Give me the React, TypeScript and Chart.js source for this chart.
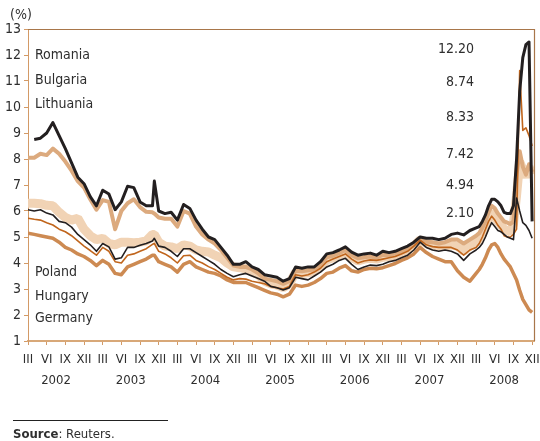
import React, { useEffect, useRef } from "react";
import { Chart, registerables } from "chart.js";

Chart.register(...registerables);

// x positions in months since March 2002
const months = [
  0, 1, 2, 3, 4, 5, 6, 7, 8, 9, 10, 11, 12, 13, 14, 15, 16, 17, 18, 19, 20, 20.3,
  21, 22, 23, 24, 25, 26, 27, 28, 29, 30, 31, 32, 33, 34, 35, 36, 37, 38, 39, 40,
  41, 42, 43, 44, 45, 46, 47, 48, 49, 50, 51, 52, 53, 54, 55, 56, 57, 58, 59, 60,
  61, 62, 63, 64, 65, 66, 67, 68, 69, 70, 71, 72,
  72.5, 73, 73.5, 74, 74.5, 75, 75.5, 76, 76.5, 77, 77.5, 78, 78.5, 79, 79.5, 80, 80.5, 81,
];

const romania = [
  null, 8.75, 8.8, 9.0, 9.4, 8.9, 8.4, 7.85, 7.3, 7.05, 6.55, 6.2, 6.8, 6.65, 6.05, 6.35, 6.95, 6.9, 6.35, 6.2, 6.2, 7.15,
  6.0, 5.9, 5.95, 5.65, 6.25, 6.1, 5.65, 5.3, 5.0, 4.9, 4.6, 4.3, 3.95, 3.95, 4.05, 3.85, 3.75, 3.55, 3.5, 3.45,
  3.3, 3.4, 3.85, 3.8, 3.85, 3.85, 4.05, 4.35, 4.4, 4.5, 4.62, 4.42, 4.3, 4.35, 4.38, 4.3, 4.45, 4.4, 4.45, 4.55,
  4.65, 4.8, 5.0, 4.95, 4.95, 4.9, 4.95, 5.1, 5.15, 5.08, 5.25, 5.35,
  5.4, 5.6, 5.85, 6.2, 6.45, 6.45, 6.35, 6.2, 5.95, 5.9, 5.9, 6.2, 8.0, 10.6, 11.9, 12.4, 12.5, 5.6,
];

const bulgaria = [
  8.05, 8.05, 8.2, 8.15, 8.4, 8.2, 7.9, 7.55, 7.15, 6.9, 6.45, 6.05, 6.42, 6.35, 5.3, 6.0, 6.3, 6.45, 6.15, 5.97, 5.95, 5.9,
  5.75, 5.7, 5.7, 5.4, 6.0, 5.9, 5.4, 5.1, 4.9, 4.75, 4.5, 4.2, 3.9, 3.85, 3.85, 3.75, 3.6, 3.4, 3.35, 3.3,
  3.2, 3.3, 3.7, 3.68, 3.72, 3.75, 3.93, 4.22, 4.28, 4.38, 4.5, 4.3, 4.18, 4.22, 4.25, 4.2, 4.32, 4.3, 4.35, 4.45,
  4.55, 4.7, 4.9, 4.82, 4.8, 4.75, 4.8, 4.9, 4.9, 4.75, 4.9, 5.05,
  5.15, 5.35, 5.6, 5.95, 6.2, 6.1, 5.9, 5.75, 5.6, 5.55, 5.5, 5.6, 7.4, 8.3, 7.7, 7.4, 7.8, 7.5,
];

const lithuania = [
  6.3, 6.3, 6.28, 6.22, 6.2, 5.95, 5.75, 5.65, 5.72, 5.3, 5.05, 4.9, 4.95, 4.75, 4.7, 4.8, 4.8, 4.78, 4.8, 4.85, 5.1, 5.1,
  4.8, 4.65, 4.62, 4.55, 4.7, 4.65, 4.5, 4.45, 4.42, 4.3, 4.2, 4.0, 3.85, 3.82, 3.78, 3.65, 3.55, 3.3, 3.2, 3.15,
  3.05, 3.2, 3.65, 3.6, 3.62, 3.7, 3.85, 4.12, 4.2, 4.3, 4.42, 4.22, 4.08, 4.15, 4.18, 4.15, 4.22, 4.25, 4.3, 4.4,
  4.5, 4.65, 4.9, 4.75, 4.7, 4.65, 4.65, 4.7, 4.65, 4.45, 4.65, 4.8,
  4.9, 5.1, 5.35, 5.7, 5.95, 5.8, 5.6, 5.45, 5.3, 5.25, 5.2, 5.5, 6.6, 7.9, 7.6, 7.3, 7.7, 7.4,
];

const poland = [
  6.05, 6.0, 6.05, 5.92, 5.85, 5.6, 5.55, 5.38, 5.1, 4.9, 4.7, 4.45, 4.75, 4.62, 4.15, 4.2, 4.6, 4.6, 4.68, 4.75, 4.85, 4.95,
  4.65, 4.6, 4.45, 4.25, 4.55, 4.55, 4.4, 4.25, 4.1, 3.95, 3.75, 3.6, 3.47, 3.55, 3.6, 3.5, 3.4, 3.3, 3.1, 3.05,
  2.96, 3.05, 3.45, 3.4, 3.35, 3.5, 3.65, 3.85, 3.95, 4.1, 4.18, 3.95, 3.75, 3.85, 3.92, 3.9, 3.95, 4.05, 4.1, 4.2,
  4.3, 4.5, 4.8, 4.6, 4.5, 4.45, 4.5, 4.45, 4.35, 4.1, 4.35, 4.5,
  4.6, 4.75, 5.0, 5.3, 5.55, 5.4, 5.25, 5.2, 5.1, 5.0, 4.95, 4.9, 6.5, 6.0, 5.55, 5.45, 5.25, 4.95,
];

const hungary = [
  5.72, 5.68, 5.65, 5.55, 5.46, 5.3, 5.2, 5.05, 4.85, 4.65, 4.48, 4.3, 4.6, 4.45, 4.05, 4.0, 4.3, 4.35, 4.45, 4.55, 4.72, 4.75,
  4.45, 4.35, 4.2, 4.0, 4.28, 4.3, 4.1, 4.0, 3.86, 3.75, 3.6, 3.45, 3.35, 3.4, 3.38, 3.3, 3.25, 3.2, 3.1, 3.05,
  3.0, 3.1, 3.55, 3.5, 3.55, 3.65, 3.8, 4.05, 4.15, 4.25, 4.35, 4.15, 4.0, 4.08, 4.12, 4.1, 4.15, 4.2, 4.25, 4.35,
  4.45, 4.65, 4.88, 4.7, 4.63, 4.6, 4.6, 4.6, 4.5, 4.3, 4.5, 4.6,
  4.75, 5.0, 5.3, 5.6, 5.8, 5.65, 5.45, 5.3, 5.05, 5.0, 5.0, 5.1, 5.3, 11.4, 9.1, 9.2, 8.9, 8.5,
];

const germany = [
  5.15, 5.1, 5.05, 5.0, 4.95, 4.8, 4.6, 4.5, 4.35, 4.25, 4.1, 3.9, 4.1, 3.95, 3.6, 3.55, 3.85, 3.95, 4.05, 4.15, 4.3, 4.3,
  4.05, 3.95, 3.85, 3.65, 3.95, 4.05, 3.85, 3.75, 3.65, 3.6, 3.5, 3.35, 3.25, 3.25, 3.25, 3.15, 3.05, 2.95, 2.85, 2.8,
  2.7, 2.8, 3.15, 3.1, 3.15, 3.25, 3.4, 3.6, 3.65, 3.8, 3.9, 3.7, 3.65, 3.75, 3.8, 3.78, 3.82, 3.9, 3.98, 4.1,
  4.2, 4.35, 4.6, 4.4, 4.25, 4.15, 4.05, 4.05, 3.7, 3.45, 3.3, 3.6,
  3.75, 3.95, 4.2, 4.5, 4.7, 4.75, 4.6, 4.35, 4.15, 4.0, 3.85, 3.6, 3.35, 2.95, 2.6, 2.4, 2.2, 2.1,
];

const topNames = ["Romania", "Bulgaria", "Lithuania"];
const bottomNames = ["Poland", "Hungary", "Germany"];
const endValues = ["12.20", "8.74", "8.33", "7.42", "4.94", "2.10"];
const quarterTicks = [
  0, 3, 6, 9, 12, 15, 18, 21, 24, 27, 30, 33, 36, 39, 42, 45, 48, 51, 54, 57, 60, 63, 66, 69, 72, 75, 78, 81,
];
const quarterLabels = ["III", "VI", "IX", "XII"];
const years = ["2002", "2003", "2004", "2005", "2006", "2007", "2008"];

const FONT = "'Liberation Sans Narrow', 'DejaVu Sans Condensed', 'Liberation Sans', Arial, sans-serif";
const TEXT = "#2e2e2e";

const textPlugin = {
  id: "annotTexts",
  afterDraw(chart: any) {
    const ctx = chart.ctx as CanvasRenderingContext2D;
    const { left, top, right, bottom } = chart.chartArea;
    ctx.save();
    ctx.strokeStyle = "#a8764a";
    ctx.lineWidth = 1.2;
    ctx.beginPath();
    ctx.moveTo(left, top + 0.5);
    ctx.lineTo(right + 0.5, top + 0.5);
    ctx.lineTo(right + 0.5, bottom);
    ctx.stroke();

    ctx.fillStyle = TEXT;
    ctx.font = `14px ${FONT}`;
    ctx.textBaseline = "alphabetic";
    ctx.textAlign = "left";
    ctx.fillText("(%)", 10, 19);
    const topY = [58.5, 83.5, 108];
    topNames.forEach((n, i) => ctx.fillText(n, 35, topY[i]));
    const botY = [276, 300, 322];
    bottomNames.forEach((n, i) => ctx.fillText(n, 35, botY[i]));
    ctx.textAlign = "right";
    const valY = [53, 86, 121, 158, 189, 217];
    endValues.forEach((v, i) => ctx.fillText(v, 474, valY[i]));
    ctx.restore();
  },
};

export default function App() {
  const ref = useRef<HTMLCanvasElement>(null);
  useEffect(() => {
    const canvas = ref.current!;
    const mk = (vals: (number | null)[]) => months.map((m, i) => ({ x: m, y: vals[i] }));
    const chart = new Chart(canvas, {
      type: "line",
      data: {
        datasets: [
          { label: "Romania", data: mk(romania), borderColor: "#231f20", borderWidth: 3, order: 0, borderJoinStyle: "round" },
          { label: "Poland", data: mk(poland), borderColor: "#231f20", borderWidth: 1.6, order: 1, borderJoinStyle: "round" },
          { label: "Hungary", data: mk(hungary), borderColor: "#c0651c", borderWidth: 1.6, order: 2, borderJoinStyle: "round" },
          { label: "Bulgaria", data: mk(bulgaria), borderColor: "#dcaa7e", borderWidth: 4, order: 3, borderJoinStyle: "round" },
          { label: "Germany", data: mk(germany), borderColor: "#cd8a52", borderWidth: 3.5, order: 4, borderJoinStyle: "round" },
          { label: "Lithuania", data: mk(lithuania), borderColor: "#f1d3b5", borderWidth: 9, order: 5, borderJoinStyle: "bevel" },
        ] as any,
      },
      options: {
        responsive: false,
        animation: false,
        devicePixelRatio: 1,
        layout: { padding: { left: 0, right: 6, top: 29, bottom: 48 } },
        plugins: { legend: { display: false }, tooltip: { enabled: false } },
        elements: { point: { radius: 0 }, line: { tension: 0 } },
        scales: {
          x: {
            type: "linear",
            position: "bottom",
            weight: 0,
            min: 0,
            max: 81.3,
            grid: { display: true, drawOnChartArea: false, drawTicks: true, tickLength: 4, color: "#d39a66", lineWidth: 1 },
            border: { display: true, color: "#d8a878", width: 2 },
            ticks: {
              autoSkip: false,
              maxRotation: 0,
              padding: 7,
              color: TEXT,
              font: { family: FONT, size: 13 },
              callback: (v: any) => quarterLabels[Math.round(Number(v) / 3) % 4],
            },
            afterBuildTicks: (s: any) => {
              s.ticks = quarterTicks.map((v) => ({ value: v }));
            },
            afterFit: (s: any) => {
              s.height = 23;
              s.paddingLeft = 0;
              s.paddingRight = 0;
            },
          },
          x2: {
            type: "linear",
            position: "bottom",
            weight: 1,
            min: 0,
            max: 81.3,
            grid: { display: false },
            border: { display: false },
            ticks: {
              autoSkip: false,
              maxRotation: 0,
              padding: 1,
              color: TEXT,
              font: { family: FONT, size: 13 },
              callback: (v: any) => years[Math.round((Number(v) - 4.5) / 12)],
            },
            afterBuildTicks: (s: any) => {
              s.ticks = years.map((_, i) => ({ value: 4.5 + 12 * i }));
            },
            afterFit: (s: any) => {
              s.height = 29;
              s.paddingLeft = 0;
              s.paddingRight = 0;
            },
          },
          y: {
            type: "linear",
            position: "left",
            min: 1,
            max: 13,
            grid: { display: true, drawOnChartArea: false, drawTicks: true, tickLength: 4, color: "#d39a66" },
            border: { display: true, color: "#d39a66", width: 1 },
            ticks: { stepSize: 1, padding: 3, color: TEXT, font: { family: FONT, size: 14 } },
            afterFit: (s: any) => {
              s.width = 28;
              s.paddingTop = 0;
              s.paddingBottom = 0;
            },
          },
        },
      } as any,
      plugins: [textPlugin],
    });
    return () => chart.destroy();
  }, []);

  return (
    <div style={{ position: "fixed", left: 0, top: 0, width: 540, height: 441, background: "#fff" }}>
      <canvas ref={ref} width={540} height={441} style={{ display: "block", width: 540, height: 441 }} />
      <div style={{ position: "absolute", left: 13, top: 420, width: 155, borderTop: "1px solid #222" }} />
      <div
        style={{
          position: "absolute",
          left: 13,
          top: 426,
          fontFamily: FONT,
          fontSize: 13,
          color: TEXT,
          lineHeight: "15px",
          whiteSpace: "nowrap",
        }}
      >
        <b>Source</b>: Reuters.
      </div>
    </div>
  );
}
